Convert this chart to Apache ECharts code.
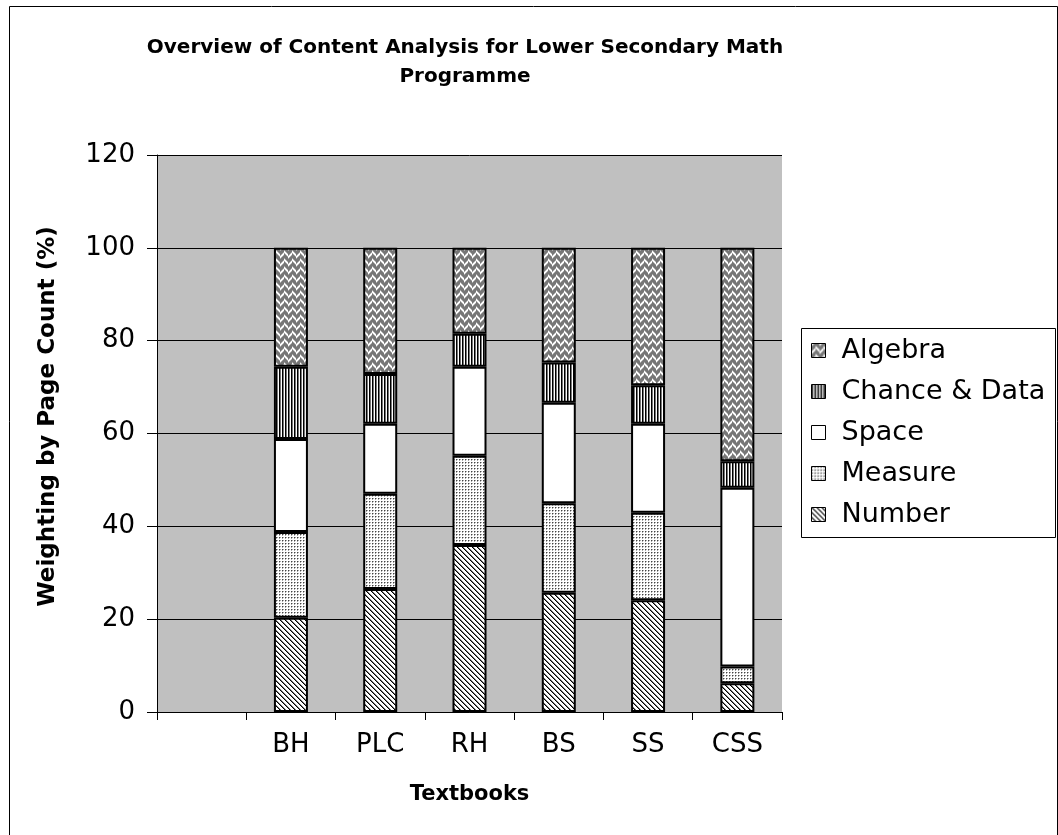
<!DOCTYPE html>
<html>
<head>
<meta charset="utf-8">
<script src="https://cdn.jsdelivr.net/npm/echarts@6/dist/echarts.min.js"></script>
<style>html,body{margin:0;padding:0;background:#fff;}#c{width:1058px;height:835px;}</style>
</head>
<body>
<div id="c"></div>
<script>
const categories = ['', 'BH', 'PLC', 'RH', 'BS', 'SS', 'CSS'];
const numberVals  = ['-', 20.3, 26.5, 36.0, 25.7, 24.1, 6.2];
const measureVals = ['-', 18.5, 20.5, 19.2, 19.3, 18.8, 3.6];
const spaceVals   = ['-', 20.0, 15.1, 19.2, 21.6, 19.2, 38.5];
const chanceVals  = ['-', 15.6, 10.7, 7.1, 8.7, 8.3, 5.7];
const algebraVals = ['-', 25.6, 27.2, 18.5, 24.7, 29.6, 46.0];
const yTicks = [0, 20, 40, 60, 80, 100, 120];

const FONT = "'DejaVu Sans', 'Liberation Sans', Arial, sans-serif";

function tile(w, h, draw) {
  const c = document.createElement('canvas');
  c.width = w; c.height = h;
  const g = c.getContext('2d');
  g.fillStyle = '#fff'; g.fillRect(0, 0, w, h);
  draw(g);
  return { image: c, repeat: 'repeat' };
}
function px(g, x, y, col) { g.fillStyle = col; g.fillRect(x, y, 1, 1); }

const patNumber = tile(5, 5, g => {
  for (let i = 0; i < 5; i++) { px(g, i, i, '#000'); px(g, (i + 1) % 5, i, '#777'); }
});
const patMeasure = tile(3, 3, g => {
  px(g, 0, 0, '#444'); px(g, 1, 0, '#aaa'); px(g, 0, 1, '#aaa');
});
const patSpace = '#ffffff';
const patChance = tile(3, 1, g => {
  px(g, 0, 0, '#000'); px(g, 1, 0, '#777');
});
const patAlgebra = tile(8, 8, g => {
  for (let y = 0; y < 8; y++) for (let x = 0; x < 8; x++) {
    const a = (x < 4) ? ((x + y) % 8) : ((x - y + 16) % 8);
    if (a < 2) px(g, x, y, '#fff');
    else if (a === 2 || a === 7) px(g, x, y, '#aaa');
    else px(g, x, y, '#777');
  }
});

function mk(name, data, color) {
  return {
    name, type: 'bar', stack: 'all', data, barWidth: 34,
    itemStyle: { color, borderColor: '#000', borderWidth: 2 },
    emphasis: { disabled: true }
  };
}

const chart = echarts.init(document.getElementById('c'), null, { renderer: 'canvas' });
chart.setOption({
  backgroundColor: '#fff',
  animation: false,
  textStyle: { fontFamily: FONT },
  title: {
    text: 'Overview of Content Analysis for Lower Secondary Math\nProgramme',
    left: 460, top: 28, textAlign: 'center',
    textStyle: { fontFamily: FONT, fontSize: 20, fontWeight: 'bold', color: '#000', lineHeight: 29 }
  },
  graphic: [
    { type: 'rect', left: 7, top: 4, z: -10, silent: true,
      shape: { width: 1048, height: 850 }, style: { fill: 'none', stroke: '#000', lineWidth: 1 } },
    { type: 'rect', left: 801, top: 328, z: -5, silent: true,
      shape: { width: 254, height: 209 }, style: { fill: '#fff', stroke: '#000', lineWidth: 1 } }
  ],
  legend: {
    data: ['Algebra', 'Chance & Data', 'Space', 'Measure', 'Number'],
    orient: 'vertical', left: 811, top: 337, padding: 0,
    itemWidth: 14, itemHeight: 14, itemGap: 14, icon: 'rect',
    itemStyle: { borderWidth: 1, borderColor: '#000' },
    textStyle: { fontFamily: FONT, fontSize: 27, color: '#000', lineHeight: 26, padding: [0, 0, 0, 11] },
    selectedMode: false
  },
  grid: { left: 157, right: 276, top: 155, bottom: 123, show: true, backgroundColor: '#c0c0c0', borderWidth: 0 },
  xAxis: {
    type: 'category', data: categories,
    name: 'Textbooks', nameLocation: 'middle', nameGap: 72,
    nameTextStyle: { fontFamily: FONT, fontSize: 21, fontWeight: 'bold', color: '#000' },
    axisLine: { lineStyle: { color: '#000', width: 1 } },
    axisTick: { show: true, length: 8, alignWithLabel: false, lineStyle: { color: '#000' } },
    axisLabel: { fontFamily: FONT, fontSize: 26, color: '#000', margin: 20, interval: 0 },
    splitLine: { show: false }
  },
  yAxis: {
    type: 'value', min: yTicks[0], max: yTicks[yTicks.length - 1], interval: 20,
    name: 'Weighting by Page Count (%)', nameLocation: 'middle', nameGap: 97,
    nameTextStyle: { fontFamily: FONT, fontSize: 23, fontWeight: 'bold', color: '#000', padding: [0, 0, 0, 34] },
    axisLine: { show: true, lineStyle: { color: '#000', width: 1 } },
    axisTick: { show: true, length: 10, lineStyle: { color: '#000' } },
    axisLabel: { fontFamily: FONT, fontSize: 26, color: '#000', margin: 22 },
    splitLine: { show: true, lineStyle: { color: '#000', width: 1 } }
  },
  series: [
    mk('Number', numberVals, patNumber),
    mk('Measure', measureVals, patMeasure),
    mk('Space', spaceVals, patSpace),
    mk('Chance & Data', chanceVals, patChance),
    mk('Algebra', algebraVals, patAlgebra)
  ]
});
</script>
</body>
</html>
